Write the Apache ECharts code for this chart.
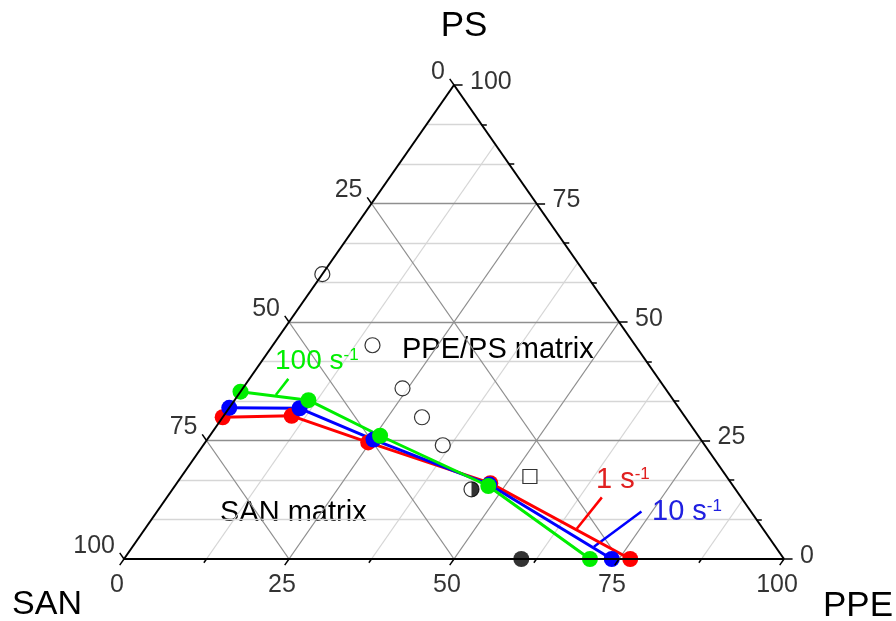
<!DOCTYPE html>
<html>
<head>
<meta charset="utf-8">
<script src="https://cdn.jsdelivr.net/npm/echarts@6/dist/echarts.min.js"></script>
<style>
  html, body { margin: 0; padding: 0; background: #fff; }
  #chart { width: 896px; height: 621px; }
</style>
</head>
<body>
<div id="chart"></div>
<script>
// compositions, in % : PPE and PS (SAN is the remainder)
const rate1Ppe = [0, 10.3, 24.7, 47.5, 76.7];
const rate1Ps = [29.9, 30.2, 24.6, 16.0, 0];
const rate10Ppe = [0, 10.7, 25.2, 47.5, 73.9];
const rate10Ps = [31.9, 31.8, 25.2, 15.7, 0];
const rate100Ppe = [0, 11.2, 25.8, 47.5, 70.6];
const rate100Ps = [35.3, 33.5, 26.0, 15.4, 0];

const openPpe = [0, 15.1, 24.2, 30.2, 36.3];
const openPs = [60.1, 45.1, 36.0, 29.9, 24.0];
const halfPpe = [45.3];
const halfPs = [14.7];
const squarePpe = [52.8];
const squarePs = [17.4];
const filledPpe = [60.2];
const filledPs = [0];

const majorTicks = [0, 25, 50, 75, 100];
const psMinorTicks = [25 / 3, 50 / 3, 100 / 3, 125 / 3, 175 / 3, 200 / 3, 250 / 3, 275 / 3];
const ppeMinorTicks = [12.5, 37.5, 62.5, 87.5];

// leader lines from rate labels to their curves (PPE, PS)
const leader1 = [[65.9, 13.0], [65.4, 6.4]];
const leader10 = [[73.4, 10.0], [69.9, 2.6]];
const leader100 = [[5.9, 38.0], [5.7, 34.6]];

const FONT = '"Liberation Sans", Arial, Helvetica, sans-serif';
const RED = '#ff0000';
const BLUE = '#0000ff';
const GREEN = '#00ee00';

// ternary (PPE, PS) -> cartesian unit square (triangle apex at x = 0.5)
function tern(ppe, ps) { return [(ppe + ps / 2) / 100, ps / 100]; }
function seg(a, b) { return { coords: [tern(a[0], a[1]), tern(b[0], b[1])] }; }
function pts(ppe, ps) { return ppe.map((v, i) => tern(v, ps[i])); }

const majorGrid = [];
const minorGrid = [];
[25, 50, 75].forEach((v) => {
  majorGrid.push(seg([0, v], [100 - v, v]));        // const PS
  majorGrid.push(seg([v, 0], [v, 100 - v]));        // const PPE
  majorGrid.push(seg([0, 100 - v], [100 - v, 0]));  // const SAN
});
psMinorTicks.forEach((p) => minorGrid.push(seg([0, p], [100 - p, p])));
ppeMinorTicks.forEach((q) => minorGrid.push(seg([q, 0], [q, 100 - q])));

const edges = [seg([0, 0], [100, 0]), seg([100, 0], [0, 100]), seg([0, 100], [0, 0])];

const ticks = [];
const dMaj = 1.3, dMin = 0.8;
majorTicks.forEach((v) => {
  ticks.push(seg([0, 100 - v], [-dMaj, 100 - v + dMaj]));   // SAN axis (left)
  ticks.push(seg([100 - v, v], [100 - v + dMaj, v]));       // PS axis (right)
  ticks.push(seg([v, 0], [v, -dMaj]));                      // PPE axis (bottom)
});
psMinorTicks.forEach((p) => ticks.push(seg([100 - p, p], [100 - p + dMin, p])));
ppeMinorTicks.forEach((q) => ticks.push(seg([q, 0], [q, -dMin])));

const leftLabels = majorTicks.map((v) => ({ name: String(v), value: tern(0, 100 - v) }));
const rightLabels = majorTicks.map((v) => ({ name: String(v), value: tern(100 - v, v) }));
const bottomLabels = majorTicks.map((v) => ({ name: String(v), value: tern(v, 0) }));

function labelSeries(data, align, offset) {
  return {
    type: 'scatter', data, symbolSize: 1, silent: true, clip: false, z: 6,
    itemStyle: { color: 'rgba(0,0,0,0)' },
    label: {
      show: true, position: 'inside', formatter: '{b}', align, verticalAlign: 'middle',
      offset, color: '#000', fontSize: 25, fontFamily: FONT
    }
  };
}

function rateSeries(name, ppe, ps, color, z) {
  return {
    name, type: 'line', data: pts(ppe, ps), clip: false, z,
    symbol: 'circle', symbolSize: 16, showSymbol: true,
    lineStyle: { color, width: 3 }, itemStyle: { color }
  };
}

function linesSeries(data, color, width, z) {
  return {
    type: 'lines', coordinateSystem: 'cartesian2d', data, silent: true, clip: false, z,
    lineStyle: { color, width, opacity: 1 }
  };
}

const chart = echarts.init(document.getElementById('chart'));

chart.setOption({
  animation: false,
  backgroundColor: '#fff',
  grid: { left: 124, top: 85, width: 660, height: 474 },
  xAxis: { type: 'value', min: 0, max: 1, show: false },
  yAxis: { type: 'value', min: 0, max: 1, show: false },
  series: [
    linesSeries(minorGrid, '#d6d6d6', 1.3, 1),
    linesSeries(majorGrid, '#8f8f8f', 1.3, 2),
    linesSeries([seg(leader1[0], leader1[1])], RED, 2.5, 3),
    linesSeries([seg(leader10[0], leader10[1])], BLUE, 2.5, 3),
    linesSeries([seg(leader100[0], leader100[1])], GREEN, 2.5, 3),
    rateSeries('1 s-1', rate1Ppe, rate1Ps, RED, 3),
    rateSeries('10 s-1', rate10Ppe, rate10Ps, BLUE, 3),
    rateSeries('100 s-1', rate100Ppe, rate100Ps, GREEN, 3),
    {
      type: 'scatter', data: pts(openPpe, openPs), symbol: 'circle', symbolSize: 15, clip: false, z: 3,
      itemStyle: { color: '#fff', borderColor: '#000', borderWidth: 1.2 }
    },
    {
      type: 'scatter', data: pts(halfPpe, halfPs), symbol: 'circle', symbolSize: 15, clip: false, z: 3,
      itemStyle: { color: '#fff', borderColor: '#000', borderWidth: 1.2 }
    },
    {
      type: 'scatter', data: pts(halfPpe, halfPs), symbol: 'path://M0,0 A10,10 0 0,1 0,20 Z',
      symbolKeepAspect: true, symbolSize: 15, symbolOffset: [3.75, 0], clip: false, z: 4,
      itemStyle: { color: '#000' }
    },
    {
      type: 'scatter', data: pts(squarePpe, squarePs), symbol: 'rect', symbolSize: 14, clip: false, z: 3,
      itemStyle: { color: '#fff', borderColor: '#000', borderWidth: 1.2 }
    },
    {
      type: 'scatter', data: pts(filledPpe, filledPs), symbol: 'circle', symbolSize: 16, clip: false, z: 3,
      itemStyle: { color: '#000' }
    },
    linesSeries(ticks, '#000', 1.5, 5),
    linesSeries(edges, '#000', 2, 5),
    labelSeries(leftLabels, 'right', [-9, -13]),
    labelSeries(rightLabels, 'left', [16, -3]),
    labelSeries(bottomLabels, 'center', [-7, 26])
  ],
  graphic: [
    { type: 'text', x: 464, y: 26, style: { text: 'PS', font: '35px ' + FONT, fill: '#000', align: 'center', verticalAlign: 'middle' } },
    { type: 'text', x: 47, y: 605, style: { text: 'SAN', font: '34px ' + FONT, fill: '#000', align: 'center', verticalAlign: 'middle' } },
    { type: 'text', x: 858, y: 606, style: { text: 'PPE', font: '35px ' + FONT, fill: '#000', align: 'center', verticalAlign: 'middle' } },
    { type: 'text', x: 402, y: 350, style: { text: 'PPE/PS matrix', font: '29px ' + FONT, fill: '#000', align: 'left', verticalAlign: 'middle' } },
    { type: 'text', x: 220, y: 513, style: { text: 'SAN matrix', font: '29px ' + FONT, fill: '#000', align: 'left', verticalAlign: 'middle' } },
    {
      type: 'text', x: 275, y: 361, z: 10,
      style: {
        text: '{m|100 s}{s|-1}', align: 'left', verticalAlign: 'middle', fill: GREEN,
        rich: { m: { fontSize: 28, fontFamily: FONT, fill: GREEN }, s: { fontSize: 17, fontFamily: FONT, fill: GREEN, verticalAlign: 'top' } }
      }
    },
    {
      type: 'text', x: 596, y: 480, z: 10,
      style: {
        text: '{m|1 s}{s|-1}', align: 'left', verticalAlign: 'middle', fill: '#e02020',
        rich: { m: { fontSize: 29, fontFamily: FONT, fill: '#e02020' }, s: { fontSize: 17, fontFamily: FONT, fill: '#e02020', verticalAlign: 'top' } }
      }
    },
    {
      type: 'text', x: 652, y: 512, z: 10,
      style: {
        text: '{m|10 s}{s|-1}', align: 'left', verticalAlign: 'middle', fill: '#2020e0',
        rich: { m: { fontSize: 29, fontFamily: FONT, fill: '#2020e0' }, s: { fontSize: 17, fontFamily: FONT, fill: '#2020e0', verticalAlign: 'top' } }
      }
    }
  ]
});

window.addEventListener('resize', () => chart.resize());
</script>
</body>
</html>
